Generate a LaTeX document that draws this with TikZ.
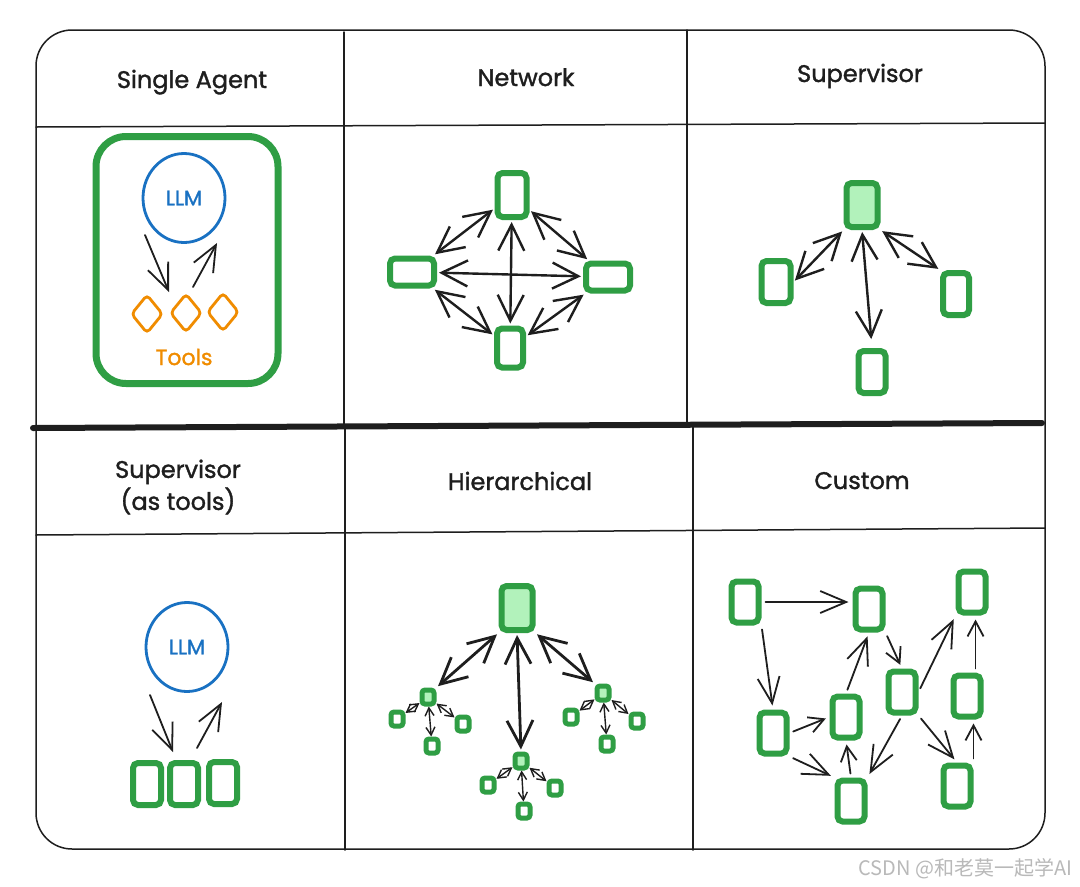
\documentclass[tikz,border=0pt]{standalone}
\usepackage{fontspec}
\setmainfont{Poppins}
\newfontfamily\handfont{Poppins}[FakeBold=1.4]
\newfontfamily\cjk{Noto Sans CJK SC}
\usepackage{tikz}
\usetikzlibrary{arrows.meta,shapes.geometric}
\definecolor{agentgreen}{HTML}{2F9E44}
\definecolor{bossfill}{HTML}{B2F2BB}
\definecolor{llmblue}{HTML}{1971C2}
\definecolor{toolorange}{HTML}{F08C00}
\definecolor{ink}{HTML}{1E1E1E}

\begin{document}
\begin{tikzpicture}[x=1pt,y=-1pt,
  agent/.style={draw=agentgreen,line width=6pt,rounded corners=5pt,minimum width=27pt,minimum height=41pt,inner sep=0pt},
  boss/.style={agent,fill=bossfill},
  tiny/.style={agent,line width=5pt,rounded corners=3pt,minimum width=12pt,minimum height=14pt},
  llm/.style={ellipse,draw=llmblue,line width=2.8pt,minimum width=82pt,minimum height=89pt,text=llmblue,font=\handfont\fontsize{21}{24}\selectfont},
  tool/.style={diamond,draw=toolorange,line width=2.8pt,minimum width=32pt,minimum height=39pt,inner sep=0pt,rounded corners=4pt},
  title/.style={anchor=base,text=ink,font=\handfont\fontsize{24}{32}\selectfont},
  grid/.style={draw=ink,line width=1.5pt,line cap=round},
  link/.style={draw=ink,line width=1.8pt,line cap=round,line join=round,-{Straight Barb[length=26pt,width=22pt]},shorten >=4pt,shorten <=4pt},
  shortlink/.style={link,-{Straight Barb[length=15pt,width=16pt]}},
  biglink/.style={link,line width=2.4pt,{Straight Barb[length=26pt,width=26pt]}-{Straight Barb[length=26pt,width=26pt]},shorten >=2pt,shorten <=2pt},
  leaflink/.style={link,line width=1.4pt,{Straight Barb[length=8pt,width=9pt]}-{Straight Barb[length=8pt,width=9pt]},shorten >=0pt,shorten <=0pt}]

 \fill[white] (0,0) rectangle (1080,887);
 \draw[grid,rounded corners=36pt] (36,30) rectangle (1045,849);
 \draw[grid] (36,127) -- (1045,123) (36,535) -- (1045,528);
 \draw[grid] (344,32) -- (344,428) (687,30) -- (687,425) (345,428) -- (345,850) (693,427) -- (693,850);
 \draw[ink,line width=6pt,line cap=round] (33,428) -- (1042,423);

 \node[title] (tsingle) at (192,88) {Single Agent};
 \node[title] (tnet) at (526,86) {Network};
 \node[title] (tsup) at (860,82) {Supervisor};
 \node[title,anchor=center,align=center] (tsuptools) at (178,487) {Supervisor\\(as tools)};
 \node[title] (thier) at (520,490) {Hierarchical};
 \node[title] (tcustom) at (862,489) {Custom};

 % single agent
 \node[agent,minimum width=182pt,minimum height=247pt,rounded corners=30pt,line width=7pt] (box) at (187,260) {};
 \node[llm] (llm1) at (184,198) {LLM};
 \foreach \x/\y [count=\i] in {147/314,186/313,223/312}
   \node[tool] (tool\i) at (\x,\y) {};
 \node[text=toolorange,font=\handfont\fontsize{22}{24}\selectfont] (tools) at (184,357) {Tools};
 \coordinate (callA) at (145,235); \coordinate (callB) at (169,292);
 \coordinate (backA) at (193,287); \coordinate (backB) at (217,243);
 \draw[link,shorten <=0pt,shorten >=0pt] (callA) -- (callB);
 \draw[link,shorten <=0pt,shorten >=0pt] (backA) -- (backB);

 % network
 \node[agent,minimum width=29pt,minimum height=44pt] (ntop) at (512,195) {};
 \node[agent,minimum width=44pt,minimum height=27pt] (nleft) at (412,272) {};
 \node[agent,minimum width=44pt,minimum height=27pt] (nright) at (608,277) {};
 \node[agent,minimum width=26pt,minimum height=39pt] (nbot) at (510,348) {};
 \foreach \a/\b in {ntop/nleft,ntop/nright,nbot/nleft,nbot/nright,ntop/nbot,nleft/nright}
   \draw[biglink] (\a) -- (\b);

 % supervisor
 \node[boss,minimum width=31pt,minimum height=44pt] (stop) at (862,205) {};
 \node[agent,minimum width=29pt,minimum height=42pt] (sleft) at (776,282) {};
 \node[agent,minimum width=26pt,minimum height=42pt] (sright) at (956,294) {};
 \node[agent,minimum width=27pt,minimum height=42pt] (sbot) at (872,372) {};
 \draw[biglink] (stop.south west) -- (sleft.east);
 \draw[biglink] (stop.south east) -- (sright.north west);
 \draw[biglink,shorten >=9pt] (stop.south) -- (sbot.north);

 % supervisor (as tools)
 \node[llm] (llm2) at (187,647) {LLM};
 \foreach \x/\y [count=\i] in {147/784,184/784,223/783}
   \node[agent,minimum width=28pt,minimum height=42pt] (sub\i) at (\x,\y) {};
 \coordinate (askA) at (150,695); \coordinate (askB) at (173,752);
 \coordinate (answerA) at (197,748); \coordinate (answerB) at (222,702);
 \draw[link,shorten <=0pt,shorten >=0pt] (askA) -- (askB);
 \draw[link,shorten <=0pt,shorten >=0pt] (answerA) -- (answerB);

 % hierarchical
 \node[boss,minimum width=31pt,minimum height=44pt] (htop) at (517,608) {};
 \node[tiny,fill=bossfill] (hl) at (428,697) {};
 \node[tiny,fill=bossfill] (hc) at (521,761) {};
 \node[tiny,fill=bossfill] (hr) at (603,693) {};
 \draw[biglink,line width=2.8pt] (htop.south west) -- (hl.north east);
 \draw[biglink,line width=2.8pt] (htop.south) -- (hc.north);
 \draw[biglink,line width=2.8pt] (htop.south east) -- (hr.north west);
 \foreach \m/\i/\x/\y in {hl/1/397/719,hl/2/432/746,hl/3/463/724,hc/1/488/785,hc/2/524/811,hc/3/555/788,hr/1/571/717,hr/2/607/744,hr/3/637/721}
   {\node[tiny] (\m\i) at (\x,\y) {};
    \draw[leaflink] (\m) -- (\m\i);}

 % custom
 \foreach \n/\x/\y in {ca/745/602,cb/869/609,cc/972/592,cd/773/733,ce/846/717,cf/902/692,cg/967/696,ch/851/801,ci/957/786}
   \node[agent] (\n) at (\x,\y) {};
 \draw[link] (ca.east) -- (ca.east -| cb.west);
 \draw[link] (ca.south east) -- (cd.north);
 \draw[shortlink] (cd.east) -- (ce.west);
 \draw[link] (cd.south east) -- (ch.north west);
 \draw[shortlink] (ch.north) -- (ce.south);
 \draw[link] (ce.north) -- (cb.south);
 \draw[shortlink] (cb.south east) -- (cf.north);
 \draw[link] (cf.east) -- (cc.south west);
 \draw[link] (cf.south) -- (ch.north east);
 \draw[link] (cf.south east) -- (ci.north);
 \draw[shortlink] (ci.north east) -- (ci.north east |- cg.south);
 \draw[shortlink] (cg.70) -- (cg.70 |- cc.south);

 \node[text=gray!55,font=\cjk\fontsize{20}{24}\selectfont,anchor=east] (mark) at (1076,869) {CSDN @和老莫一起学AI};
\end{tikzpicture}
\end{document}
